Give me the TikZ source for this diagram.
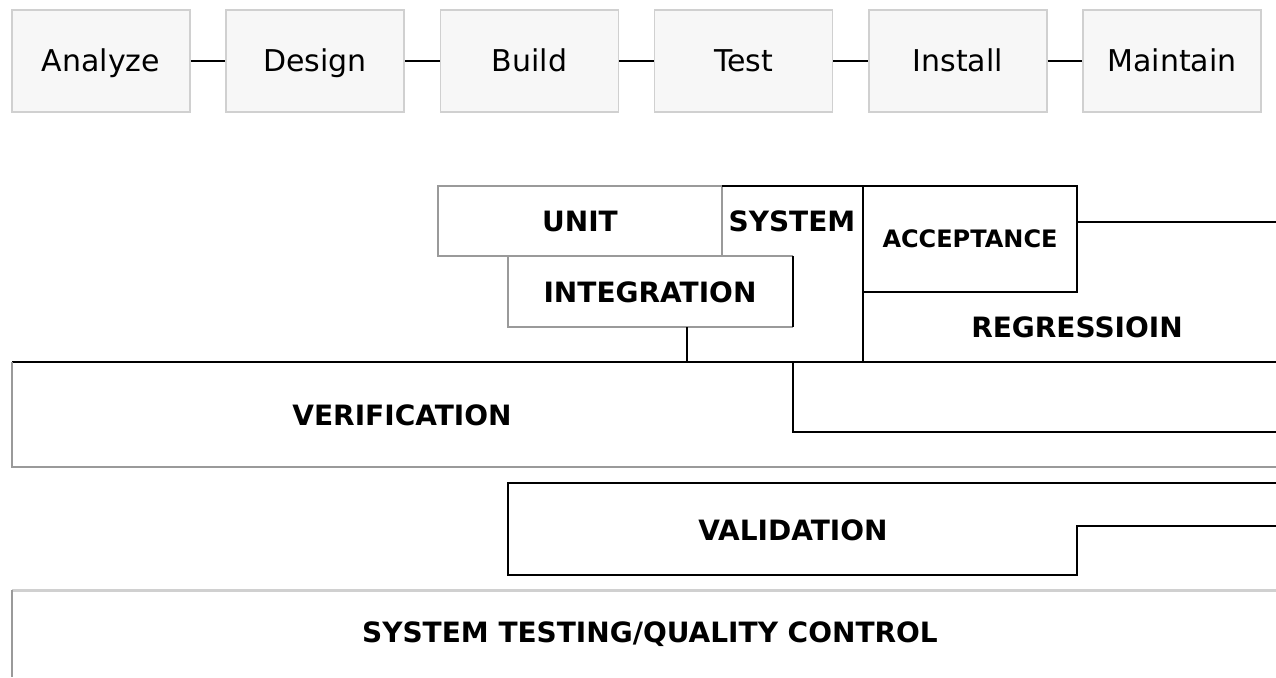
\documentclass[tikz,border=0pt]{standalone}
\usepackage{fontspec}
\setmainfont{DejaVu Sans}
\usepackage{tikz}
\usetikzlibrary{positioning}

\definecolor{boxfill}{HTML}{F7F7F7}
\definecolor{boxline}{HTML}{D0D0D0}
\definecolor{softline}{HTML}{9A9A9A}

\tikzset{
  phase/.style={draw=boxline, fill=boxfill, line width=0.8pt, minimum width=89pt,
    minimum height=51pt, text height=13pt, text depth=2.5pt,
    font=\fontsize{15}{18}\selectfont},
  link/.style={line width=0.8pt, black},
  level/.style={font=\bfseries\fontsize{14}{17}\selectfont, inner sep=0pt},
  edge/.style={line width=0.8pt, black},
  softedge/.style={line width=0.8pt, softline}
}

\begin{document}
\begin{tikzpicture}[x=0.5pt, y=-0.5pt]
  \useasboundingbox (0,0) rectangle (1276,677);

  % life cycle
  \node[phase] (analyze) at (101,61) {Analyze};
  \node[phase, right=17.3pt of analyze] (design) {Design};
  \node[phase, right=17.3pt of design] (build) {Build};
  \node[phase, right=17.3pt of build] (test) {Test};
  \node[phase, right=17.3pt of test] (install) {Install};
  \node[phase, right=17.3pt of install] (maintain) {Maintain};
  \draw[link] (analyze) -- (design);
  \draw[link] (design) -- (build);
  \draw[link] (build) -- (test);
  \draw[link] (test) -- (install);
  \draw[link] (install) -- (maintain);

  % test levels
  \draw[softedge] (438,186) rectangle (722,256);
  \draw[edge] (722,186) -- (863,186);
  \draw[softedge] (508,256) -- (508,327) -- (793,327);
  \draw[softedge] (508,256) -- (793,256);
  \draw[edge] (793,256) -- (793,327);
  \draw[edge] (863,186) rectangle (1077,292);
  \draw[edge] (863,292) -- (863,362);
  \draw[edge] (1077,222) -- (1276,222);

  % verification
  \draw[edge] (12,362) -- (1276,362);
  \draw[softedge] (12,362) -- (12,467) -- (1276,467);
  \draw[edge] (793,362) -- (793,432) -- (1276,432);

  % validation
  \draw[edge] (1276,483) -- (508,483) -- (508,575) -- (1077,575) -- (1077,526) -- (1276,526);

  % system testing
  \draw[line width=1.5pt, boxline] (12,590) -- (1276,590);
  \draw[softedge] (12,590) -- (12,677);

  \node[level] (unit) at (580,221) {UNIT};
  \node[level] (system) at (792,221) {SYSTEM};
  \node[level] (integ) at (650,292) {INTEGRATION};
  \node[level, font=\bfseries\fontsize{12}{14}\selectfont] (accept) at (970,239) {ACCEPTANCE};
  \node[level] (regress) at (1077,327) {REGRESSIOIN};
  \node[level] (verif) at (402,415) {VERIFICATION};
  \node[level] (valid) at (793,530) {VALIDATION};
  \node[level] (systest) at (650,634) {SYSTEM TESTING/QUALITY CONTROL};
  \coordinate (vtop) at (687,362);
  \draw[edge] (687,327) -- (vtop);
\end{tikzpicture}
\end{document}
